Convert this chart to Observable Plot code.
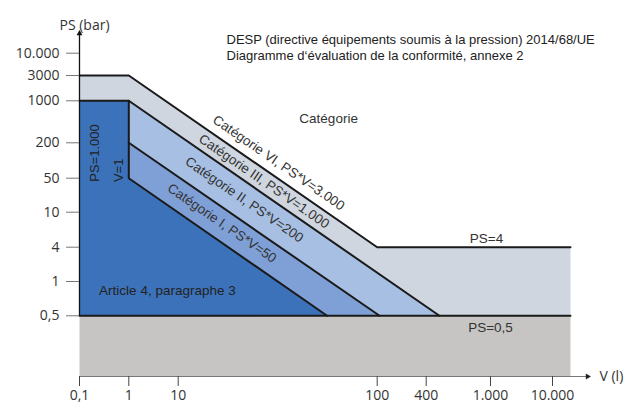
<!DOCTYPE html>
<html><head><meta charset="utf-8">
<script src="https://cdn.jsdelivr.net/npm/d3@7"></script>
<script src="https://cdn.jsdelivr.net/npm/@observablehq/plot@0.6"></script>
<style>
body{margin:0;background:#fff}
#chart svg{display:block}
</style>
</head><body><div id="chart"></div>
<script>
// ---- axis ticks (schematic, non-uniform spacing) ----
const xTicks = [0.1, 1, 10, 100, 400, 1000, 10000];
const xTickLabels = ["0,1", "1", "10", "100", "400", "1.000", "10.000"];
const yTicks = [0.5, 1, 4, 10, 50, 200, 1000, 3000, 10000];
const yTickLabels = ["0,5", "1", "4", "10", "50", "200", "1000", "3000", "10.000"];

// ---- region polygons [V (l), PS (bar)] ----
const belowHalf = [[0.1, 0.1], [20000, 0.1], [20000, 0.5], [0.1, 0.5]];
const band3000 = [[0.1, 3000], [1, 3000], [100, 4], [20000, 4], [20000, 0.5], [0.1, 0.5]];
const band1000 = [[1, 1000], [483, 0.5], [1, 0.5]];
const band200 = [[1, 200], [107, 0.5], [1, 0.5]];
const article4 = [[0.1, 1000], [1, 1000], [1, 50], [56, 0.5], [0.1, 0.5]];

// ---- boundary lines ----
const lineTop = [[0.1, 3000], [1, 3000], [100, 4], [20000, 4]];
const line1000 = [[0.1, 1000], [1, 1000], [483, 0.5]];
const lineV1 = [[1, 1000], [1, 50], [56, 0.5]];
const line200 = [[1, 200], [107, 0.5]];
const lineHalf = [[0.1, 0.5], [20000, 0.5]];

// ---- labels ----
const diagLabels = ["Catégorie VI, PS*V=3.000", "Catégorie III, PS*V=1.000", "Catégorie II, PS*V=200", "Catégorie I, PS*V=50"];
const diagV = [32, 27, 21.5, 16.6];
const diagPS = [91, 43, 18, 7.5];
const titleLines = ["DESP (directive équipements soumis à la pression) 2014/68/UE", "Diagramme d‘évaluation de la conformité, annexe 2"];

const helv = "Liberation Sans, Arial, Helvetica, sans-serif";
const tickFont = "Open Sans, sans-serif";
const txt = "#333";

const diagData = diagLabels.map((t, i) => ({t, V: diagV[i], PS: diagPS[i]}));
const xTickData = xTicks.map((v, i) => ({v, label: xTickLabels[i]}));
const yTickData = yTicks.map((v, i) => ({v, label: yTickLabels[i]}));

const poly = (pts, fill) => Plot.line(pts, {fill, stroke: "none"});
const edge = (pts, w = 2) => Plot.line(pts, {stroke: "#1a1a1a", strokeWidth: w});

const chart = Plot.plot({
  width: 635,
  height: 406,
  marginLeft: 79,
  marginRight: 45,
  marginTop: 30,
  marginBottom: 30,
  style: {fontFamily: tickFont, fontSize: "13.5px", background: "#fff", color: "#333"},
  x: {type: "log", domain: [0.1, 1, 10, 100, 400, 1000, 10000, 20000, 40000],
      range: [79, 128.3, 177.7, 376.7, 425.7, 490, 552, 570, 587]},
  y: {type: "log", domain: [0.1, 0.5, 1, 4, 10, 50, 200, 1000, 3000, 10000, 30000],
      range: [376, 315.3, 281, 246.7, 211.7, 177.7, 142.3, 100.3, 75, 52.7, 33]},
  marks: [
    poly(belowHalf, "#c6c5c3"),
    poly(band3000, "#cfd6df"),
    poly(band1000, "#a7bfe2"),
    poly(band200, "#7fa0d6"),
    poly(article4, "#3c72ba"),
    edge(lineTop),
    edge(line1000),
    edge(lineV1),
    edge(line200),
    edge(lineHalf),
    // axes lines and arrows
    Plot.ruleY([0.1], {x1: 0.1, x2: 40000, stroke: "#777", strokeWidth: 1.2}),
    Plot.ruleX([0.1], {y1: 0.5, y2: 30000, stroke: "#111", strokeWidth: 1.3}),
    Plot.dot([[40000, 0.1]], {symbol: "triangle", r: 2.2, rotate: 90, fill: "#222", stroke: "none"}),
    Plot.dot([[0.1, 30000]], {symbol: "triangle", r: 2.2, fill: "#111", stroke: "none"}),
    // ticks
    Plot.axisX(xTicks, {tickSize: 10, stroke: "#444", text: null, label: null}),
    Plot.axisY(yTicks, {tickSize: 13, stroke: "#777", text: null, label: null}),
    // tick labels
    Plot.text(xTickData, {x: "v", text: "label", frameAnchor: "bottom", dy: 23, fontSize: 14, fill: txt}),
    Plot.text(yTickData, {y: "v", text: "label", frameAnchor: "left", dx: -20, textAnchor: "end", fontSize: 14, fill: txt}),
    Plot.text(["PS (bar)"], {frameAnchor: "top-left", dx: 5, dy: -10, textAnchor: "middle", fontSize: 14, fill: txt}),
    Plot.text(["V (l)"], {frameAnchor: "bottom-right", dx: 9, dy: 4, textAnchor: "start", fontSize: 14, fill: txt}),
    // title
    Plot.text([titleLines.join("\n")], {frameAnchor: "top-left", dx: 147, dy: 16, textAnchor: "start", lineAnchor: "middle", lineHeight: 1.23, fontFamily: helv, fontSize: 13, fill: "#222"}),
    // diagonal labels
    Plot.text(diagData, {x: "V", y: "PS", text: "t", rotate: 34.6, fontFamily: helv, fontSize: 13.5, fill: txt}),
    Plot.text(["Catégorie"], {x: [57], y: [508], fontFamily: helv, fontSize: 13.5, fill: txt}),
    Plot.text(["PS=4"], {x: [944], y: [4], dy: -9, fontFamily: helv, fontSize: 13.5, fill: txt}),
    Plot.text(["PS=0,5"], {x: [1000], y: [0.5], dy: 12, fontFamily: helv, fontSize: 13.5, fill: txt}),
    Plot.text(["PS=1.000"], {x: [0.2], y: [134], rotate: -90, fontFamily: helv, fontSize: 13, fill: "#222"}),
    Plot.text(["V=1"], {x: [0.62], y: [68], rotate: -90, fontFamily: helv, fontSize: 13, fill: "#222"}),
    Plot.text(["Article 4, paragraphe 3"], {x: [0.25], y: [0.83], textAnchor: "start", fontFamily: helv, fontSize: 13.5, fill: "#222"})
  ]
});
document.getElementById("chart").append(chart);
</script>
</body></html>
